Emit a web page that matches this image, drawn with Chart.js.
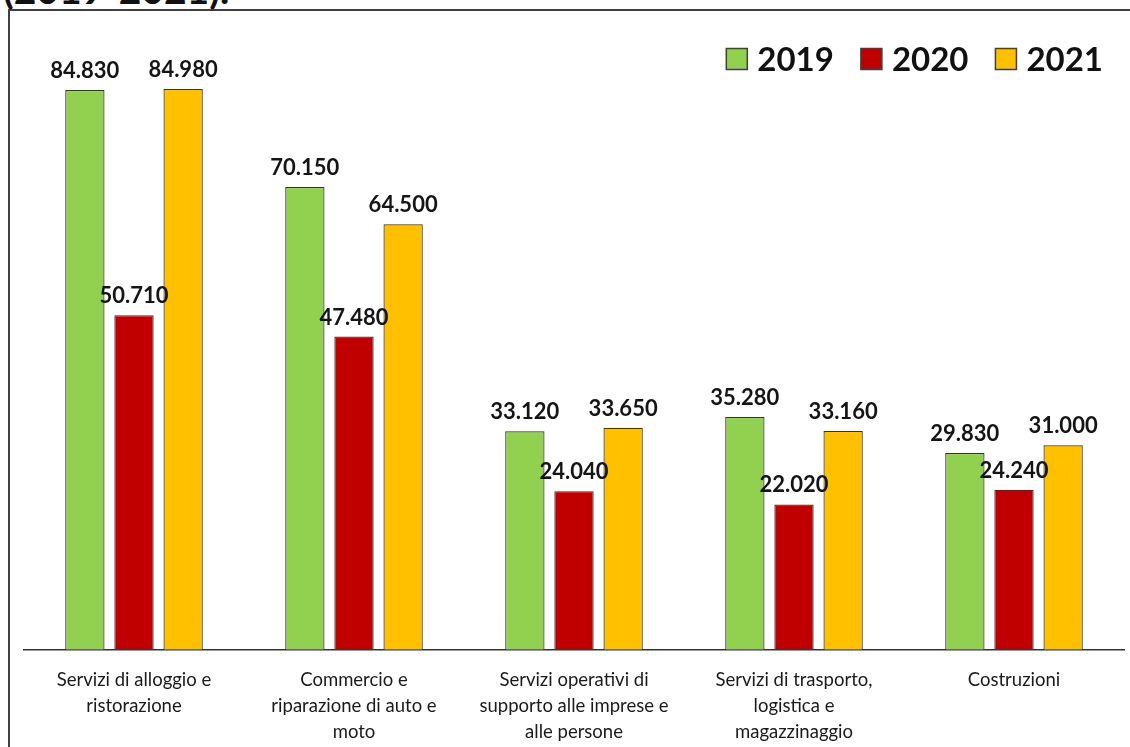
<!DOCTYPE html>
<html lang="it">
<head>
<meta charset="utf-8">
<script src="https://cdn.jsdelivr.net/npm/chart.js@4.4.1/dist/chart.umd.min.js"></script>
<style>
  html, body { margin: 0; padding: 0; background: #fff; overflow: hidden; }
  #wrap { position: relative; width: 1130px; height: 747px; overflow: hidden; }
  #titolo { position: absolute; left: 3px; top: -34px; font: bold 39px Lato, sans-serif; color: #111; white-space: nowrap; }
  #cornice { position: absolute; left: 8px; top: 9px; width: 1130px; height: 760px; border-left: 2px solid #404040; border-top: 2px solid #404040; }
  #grafico { position: absolute; left: 0; top: 0; }
</style>
</head>
<body>
<div id="wrap">
  <div id="titolo">(2019-2021).</div>
  <div id="cornice"></div>
  <canvas id="grafico" width="1130" height="766"></canvas>
</div>
<script>
// Dati (numero di imprese per settore)
const settori = [
    ['Servizi di alloggio e', 'ristorazione'],
    ['Commercio e', 'riparazione di auto e', 'moto'],
    ['Servizi operativi di', 'supporto alle imprese e', 'alle persone'],
    ['Servizi di trasporto,', 'logistica e', 'magazzinaggio'],
    ['Costruzioni'],
];
const anni = ['2019', '2020', '2021'];
const valori2019 = [84830, 70150, 33120, 35280, 29830];
const valori2020 = [50710, 47480, 24040, 22020, 24240];
const valori2021 = [84980, 64500, 33650, 33160, 31000];
const colori = ['#92D050', '#C00000', '#FFC000'];

// separatore delle migliaia all'italiana
function formatta(v) {
    return String(v).replace(/\B(?=(\d{3})+(?!\d))/g, '.');
}

// etichette dei valori sopra le barre
const etichette = {
    id: 'etichette',
    afterDatasetsDraw(chart) {
        const ctx = chart.ctx;
        ctx.save();
        ctx.font = 'bold 22px Lato, sans-serif';
        ctx.fillStyle = '#151515';
        ctx.textAlign = 'center';
        ctx.textBaseline = 'alphabetic';
        chart.data.datasets.forEach((ds, i) => {
            chart.getDatasetMeta(i).data.forEach((bar, j) => {
                ctx.fillText(formatta(ds.data[j]), bar.x, bar.y - 12);
            });
        });
        ctx.restore();
    },
};

// legenda in alto a destra, sopra l'area del grafico
const legenda = {
    id: 'legenda',
    afterDraw(chart) {
        const ctx = chart.ctx;
        const box = 21, gapTesto = 10, gapVoci = 27;
        const cy = 59;
        ctx.save();
        ctx.font = 'bold 33px Lato, sans-serif';
        ctx.textBaseline = 'middle';
        let x = chart.chartArea.right - 21;
        const voci = chart.data.datasets.slice().reverse();
        voci.forEach((ds) => {
            const w = ctx.measureText(ds.label).width;
            x -= w;
            ctx.fillStyle = '#111';
            ctx.fillText(ds.label, x, cy + 1);
            x -= gapTesto + box;
            ctx.fillStyle = ds.backgroundColor;
            ctx.fillRect(x, cy - box / 2, box, box);
            ctx.strokeStyle = '#404040';
            ctx.lineWidth = 1.5;
            ctx.strokeRect(x, cy - box / 2, box, box);
            x -= gapVoci;
        });
        ctx.restore();
    },
};

new Chart(document.getElementById('grafico'), {
    type: 'bar',
    data: {
        labels: settori,
        datasets: [
            { label: anni[0], data: valori2019, backgroundColor: colori[0] },
            { label: anni[1], data: valori2020, backgroundColor: colori[1] },
            { label: anni[2], data: valori2021, backgroundColor: colori[2] },
        ].map(d => Object.assign(d, {
            borderColor: '#333',
            borderWidth: 1.2,
            categoryPercentage: 0.67,
            barPercentage: 0.8,
        })),
    },
    options: {
        responsive: false,
        animation: false,
        layout: { padding: { left: 24, right: 6, top: 56, bottom: 4 } },
        plugins: {
            legend: { display: false },
            tooltip: { enabled: false },
        },
        scales: {
            x: {
                grid: { display: false, drawTicks: false },
                border: { display: true, color: '#333', width: 1.5 },
                ticks: {
                    color: '#1a1a1a',
                    font: { family: 'Lato, sans-serif', size: 18.5, lineHeight: 1.41 },
                    padding: 17,
                    maxRotation: 0,
                    autoSkip: false,
                },
            },
            y: {
                display: false,
                min: 0,
                max: 90000,
            },
        },
    },
    plugins: [etichette, legenda],
});
</script>
</body>
</html>
